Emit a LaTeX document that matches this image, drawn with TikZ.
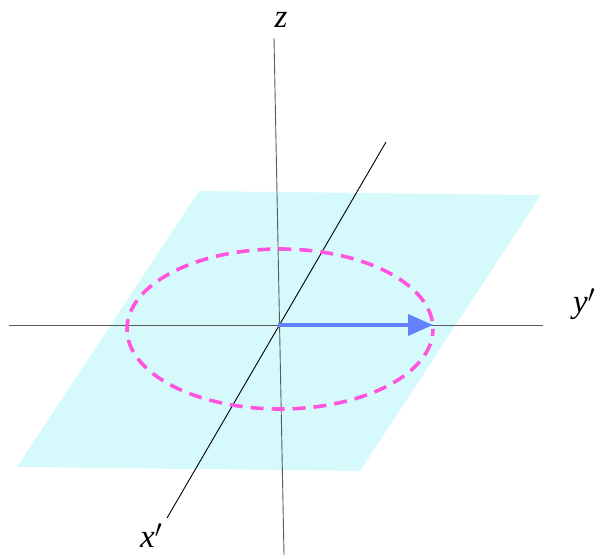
\documentclass[tikz,border=0pt]{standalone}
\usepackage{fontspec}
\setmainfont{Liberation Serif}
\usetikzlibrary{arrows.meta}
\definecolor{planecol}{RGB}{214,250,252}
\definecolor{ellcol}{RGB}{255,85,221}
\definecolor{arrcol}{RGB}{100,130,255}
\definecolor{axgray}{RGB}{90,90,90}
\tikzset{
  axisline/.style={line width=0.9pt},
  lbl/.style={font=\fontsize{33}{33}\selectfont\itshape, inner sep=0pt},
}
\begin{document}
\begin{tikzpicture}[x=1pt,y=-1pt]
\useasboundingbox (0,0) rectangle (597,555);
\clip (0,0) rectangle (597,555);
% plane
\coordinate (p1) at (199,191);
\coordinate (p2) at (541,195);
\coordinate (p3) at (360,471);
\coordinate (p4) at (17,467);
\fill[planecol] (p1) -- (p2) -- (p3) -- (p4) -- cycle;
% axes
\coordinate (O) at (278,325);
\coordinate (ytop) at (274,38);
\coordinate (ybot) at (284,555);
\coordinate (hl) at (9,325);
\coordinate (hr) at (543,325);
\coordinate (xt) at (386,142);
\coordinate (xb) at (167,518);
\draw[axisline, axgray] (hl) -- (hr);
\draw[axisline, axgray] (ytop) -- (ybot);
\draw[axisline, black] (xt) -- (xb);
% ellipse
\coordinate (E) at (280,329);
\draw[ellcol, line width=3.6pt, dash pattern=on 13pt off 8pt, dash phase=6pt] (E) ellipse [x radius=153, y radius=80];
% arrow
\coordinate (A) at (433,325);
\draw[arrcol, line width=3.8pt, -{Triangle[length=25pt,width=21pt]}] (O) -- (A);
% labels
\node[lbl, anchor=base] (zl) at (281,27) {z};
\node[lbl, anchor=base west] (yl) at (573,312) {y$'$};
\node[lbl, anchor=base west] (xl) at (140,547) {x$'$};
\end{tikzpicture}
\end{document}
